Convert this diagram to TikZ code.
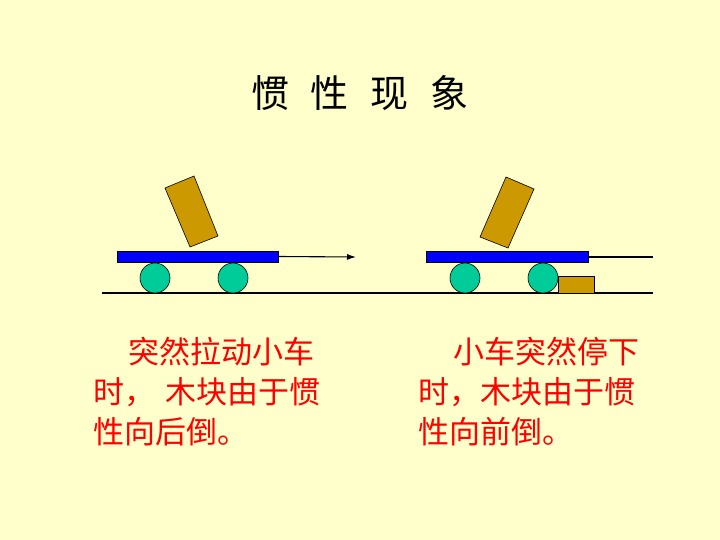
\documentclass[tikz,border=0pt]{standalone}
\usepackage{fontspec}
\usetikzlibrary{arrows.meta}
\newfontfamily\cjk{Noto Sans CJK SC}
\definecolor{bg}{HTML}{FFFFCC}
\definecolor{gold}{HTML}{CC9900}
\definecolor{bar}{HTML}{0000FF}
\definecolor{wheel}{HTML}{00CC99}
\begin{document}
\begin{tikzpicture}[x=1pt,y=-1pt,
  txt/.style={anchor=west,inner sep=0pt,text=red,font=\cjk\fontsize{31}{36}\selectfont},
  barst/.style={fill=bar,draw=black,line width=0.6pt},
  wh/.style={fill=wheel,draw=black,line width=0.6pt},
  blk/.style={fill=gold,draw=black,line width=0.6pt}]
\useasboundingbox[fill=bg] (0,0) rectangle (720,540);
\node[inner sep=0pt,font=\cjk\fontsize{38}{42}\selectfont] (title) at (360,93) {惯\hspace{22pt}性\hspace{22pt}现\hspace{22pt}象};
% ground
\draw[line width=1.2pt] (102,293) -- (653,293);
% left cart
\draw[blk] (165,188) -- (194,176) -- (218,236) -- (190,247) -- cycle;
\node[barst,minimum width=161pt,minimum height=11pt,inner sep=0pt] (lbar) at (197.5,256.5) {};
\node[wh,circle,minimum size=30pt,inner sep=0pt] (lw1) at (155,278) {};
\node[wh,circle,minimum size=30pt,inner sep=0pt] (lw2) at (233,278) {};
\coordinate (la) at (356,257);
\draw[-{Latex[length=9pt,width=6pt]},line width=1.1pt] (lbar.east) -- (la);
% right cart
\draw[blk] (506,177) -- (534,189) -- (508,248) -- (480,237) -- cycle;
\node[barst,minimum width=162pt,minimum height=11pt,inner sep=0pt] (rbar) at (507,257) {};
\node[wh,circle,minimum size=30pt,inner sep=0pt] (rw1) at (465,278) {};
\node[wh,circle,minimum size=30pt,inner sep=0pt] (rw2) at (543,278) {};
\draw[blk] (558,276) rectangle (594,293);
\coordinate (re) at (653,257);
\draw[line width=1.1pt] (rbar.east) -- (re);
% texts
\node[txt] (t1) at (128,352) {突然拉动小车};
\node[txt] (t2) at (93,392) {时，\,\,木块由于惯};
\node[txt] (t3) at (93,432) {性向后倒。};
\node[txt] (t4) at (453,352) {小车突然停下};
\node[txt] (t5) at (418,392) {时，木块由于惯};
\node[txt] (t6) at (418,432) {性向前倒。};
\end{tikzpicture}
\end{document}
